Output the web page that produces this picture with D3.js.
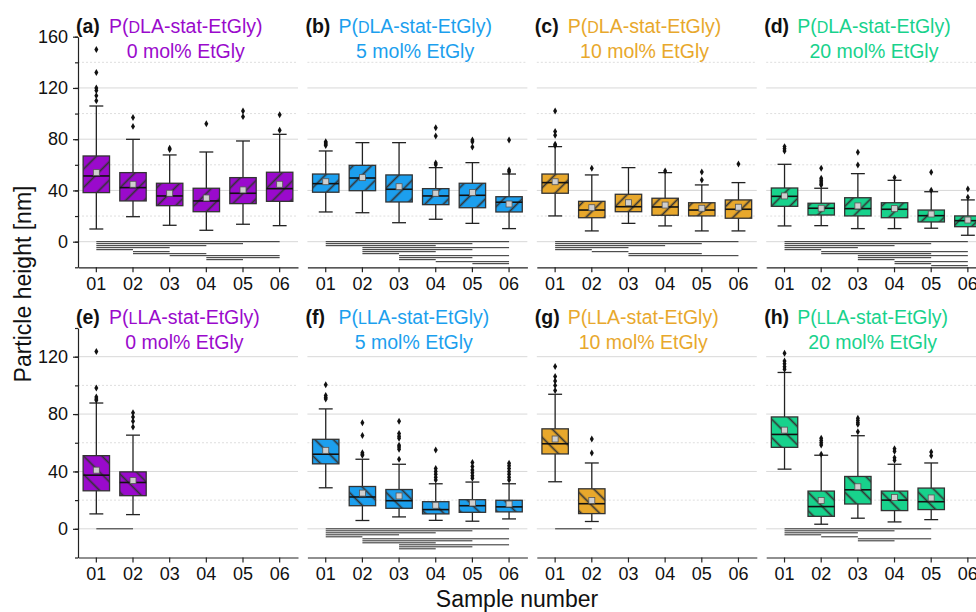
<!DOCTYPE html>
<html>
<head>
<meta charset="utf-8">
<script src="https://cdn.jsdelivr.net/npm/d3@7"></script>
<style>
    body { margin: 0; background: #fff; }
    svg { font-family: "Liberation Sans", Arial, sans-serif; display: block; }
</style>
</head>
<body>
<svg id="chart"></svg>
<script>
var samples = ["01", "02", "03", "04", "05", "06"];
var letters = ["a", "b", "c", "d", "e", "f", "g", "h"];
var isomers = ["D", "D", "D", "D", "L", "L", "L", "L"];
var contents = ["0 mol% EtGly", "5 mol% EtGly", "10 mol% EtGly", "20 mol% EtGly",
    "0 mol% EtGly", "5 mol% EtGly", "10 mol% EtGly", "20 mol% EtGly"];
var panelColors = ["#9a0acc", "#1c9fee", "#e8a82c", "#18d28c",
    "#9a0acc", "#1c9fee", "#e8a82c", "#18d28c"];
var topTicks = [0, 40, 80, 120, 160];
var bottomTicks = [0, 40, 80, 120];

// each box: [lower whisker, Q1, median, Q3, upper whisker, mean]
var boxA = [[9.9, 38.3, 51.3, 66.9, 105.9, 53.9], [19.5, 31.8, 42.2, 53.9, 79.9, 44.8], [12.8, 28.1, 35.7, 45.6, 67.7, 37.8],
    [8.9, 23.4, 31.8, 41.7, 70, 34.1], [13.6, 29.7, 37.8, 50, 78.6, 40.4], [12.5, 31.5, 41.4, 54.2, 83.8, 44.8]];
var boxB = [[23.2, 38.6, 45.3, 52.8, 70.8, 46.8], [22.6, 39.8, 49.7, 59.6, 77.3, 50], [14.8, 31, 40.9, 52.1, 77.3, 42.9],
    [17.5, 28.9, 35.7, 41.4, 57.8, 37.8], [14.3, 26.5, 36.2, 45.6, 61.7, 38.3], [10.2, 23.2, 30.8, 35.1, 52.8, 29.4]];
var boxC = [[20.1, 37.8, 46.1, 52.8, 74.2, 46.8], [8.4, 18.7, 24.7, 31.5, 52.1, 26.5], [14.3, 23.4, 27.3, 37, 57.8, 30.4],
    [12.3, 20.6, 27.1, 33.9, 53.9, 28.6], [8.4, 20.1, 24.7, 30.4, 44.3, 26.1], [8.4, 18.3, 25.3, 32.6, 46.1, 26.9]];
var boxD = [[12.3, 27.6, 35.4, 41.9, 60.4, 35.7], [12.5, 20.8, 26.1, 30, 41.7, 26.1], [10.2, 20.1, 25.8, 34.3, 53.1, 27.9],
    [10.2, 18.7, 25.3, 30.4, 47.9, 25.8], [10.5, 15.4, 20.3, 24.7, 39, 21.6], [5, 11.7, 16.4, 20.1, 32.6, 16.9]];
var boxE = [[10.4, 26.5, 37.4, 51, 87.7, 40.9], [9.9, 23.1, 32.3, 39.7, 65.3, 33.7], null, null, null, null];
var boxF = [[28.6, 45.3, 52, 62.4, 83.6, 54.7], [5.8, 16.1, 22.2, 29.5, 48.5, 24.9], [8.3, 14.3, 19.6, 27.4, 45, 22.9],
    [5.9, 10.4, 13.4, 18.9, 31.4, 16.4], [5.3, 11.5, 16.1, 20.3, 32.6, 18], [6.9, 11.8, 15.3, 19.9, 31.4, 17.3]];
var boxG = [[32.8, 52.2, 59.3, 69.7, 93.8, 62.6], [5.1, 10.6, 17.5, 27.9, 45.9, 19.8], null, null, null, null];
var boxH = [[41.6, 56.8, 65.8, 78, 109, 68.8], [3.2, 8.7, 15.5, 26.3, 51.3, 19.8], [7.4, 17.3, 27.2, 36.5, 64.9, 29.3],
    [4.8, 12.7, 20, 26.3, 45, 21.9], [6.4, 13.4, 18.9, 28.4, 45.9, 21.5], null];

// outliers per sample
var outA = [[150, 132, 120, 118, 114, 110], [97, 90], [73, 72], [92], [102, 97.6], [99, 87]];
var outB = [[78, 77, 76, 75], [], [], [89, 82.5, 61.4, 60], [79.4, 78, 73.9], [79.4, 56, 54.5]];
var outC = [[102, 86, 83, 76, 75], [57.3], [], [55.2], [54.4, 48.2], [60.7]];
var outD = [[74.2, 72.5, 70.8], [57.3, 49.5, 48, 46.5, 45, 44.3], [69.8, 59.9], [50], [54.2, 40.1], [41.1, 34.7]];
var outE = [[123.6, 98.1, 91.9, 90.5, 89.6], [81, 78, 75, 71], [], [], [], []];
var outF = [[100.5, 92.9, 91.5, 90.5], [73.9, 65.1, 53.1, 52, 51.3], [75, 66.5, 64.5, 63.1, 58.2, 57, 55.4, 48.5],
    [55, 42, 40, 38, 36, 34], [46.2, 43.4, 41, 39, 37, 35.3], [45.7, 44, 42, 40, 38, 36, 34]];
var outG = [[113.2, 106.2, 103, 100, 96.5], [62.6, 52.9], [], [], [], []];
var outH = [[122.4, 117, 115, 113, 111.3], [63.1, 61.5, 60, 58.4, 52], [77.1, 75.5, 74, 72.8, 67.6],
    [55.9, 54, 49.5, 47.8], [53.6, 51], []];

// significant pairs (sample numbers), one row each under the zero line
var sigA = [[1, 6], [1, 5], [1, 4], [1, 3], [1, 2], [2, 3], [2, 4], [3, 6], [4, 6], [4, 5]];
var sigB = [[1, 6], [1, 5], [1, 4], [2, 6], [2, 5], [2, 4], [2, 3], [3, 6], [3, 5], [3, 4], [4, 6], [5, 6]];
var sigC = [[1, 6], [1, 5], [1, 4], [1, 3], [1, 2], [2, 3], [3, 5], [3, 6]];
var sigD = [[1, 6], [1, 5], [1, 4], [1, 3], [1, 2], [2, 6], [2, 5], [3, 6], [3, 5], [3, 4], [4, 6], [4, 5], [5, 6]];
var sigE = [[1, 2]];
var sigF = [[1, 6], [1, 5], [1, 4], [1, 3], [1, 2], [2, 6], [2, 5], [2, 4], [3, 6], [3, 5], [3, 4]];
var sigG = [[1, 2]];
var sigH = [[1, 5], [1, 4], [1, 3], [1, 2], [2, 3], [3, 5], [3, 4]];

function init() {
    var w = 976;
    var h = 612;
    var panelW = 220;

    var panels = [
        { box: boxA, out: outA, sig: sigA }, { box: boxB, out: outB, sig: sigB },
        { box: boxC, out: outC, sig: sigC }, { box: boxD, out: outD, sig: sigD },
        { box: boxE, out: outE, sig: sigE }, { box: boxF, out: outF, sig: sigF },
        { box: boxG, out: outG, sig: sigG }, { box: boxH, out: outH, sig: sigH }
    ];

    var svg = d3.select("#chart")
        .attr("width", w)
        .attr("height", h);
    var defs = svg.append("defs");

    var rowY = [
        d3.scaleLinear().domain([-20, 160]).range([267.3, 36.7]),
        d3.scaleLinear().domain([-20, 140]).range([557.5, 328])
    ];
    var rowTicks = [topTicks, bottomTicks];

    var colLeft = d3.scaleLinear().domain([0, 1]).range([78, 307.4]);

    var xScale = d3.scaleBand()
        .domain(samples)
        .range([0, panelW]);
    var step = xScale.step();
    function cx(s) { return xScale(s) + xScale.bandwidth() / 2; }

    panels.forEach(function (pan, p) {
        var col = p % 4;
        var row = Math.floor(p / 4);
        var y = rowY[row];
        var top = y.domain()[1];
        var color = panelColors[p];

        // hatch pattern for the boxes
        var pat = defs.append("pattern")
            .attr("id", "hatch" + p)
            .attr("patternUnits", "userSpaceOnUse")
            .attr("width", 13)
            .attr("height", 13)
            .attr("patternTransform", "rotate(" + (row === 0 ? 45 : -45) + ")");
        pat.append("rect").attr("width", 13).attr("height", 13).attr("fill", color);
        pat.append("line")
            .attr("x1", 6.5).attr("x2", 6.5).attr("y1", 0).attr("y2", 13)
            .attr("stroke", "#333")
            .attr("stroke-width", 1.7);

        var g = svg.append("g")
            .attr("transform", "translate(" + colLeft(col) + ",0)");

        // grid lines
        g.selectAll(".grid")
            .data(d3.range(0, top, 20))
            .enter()
            .append("line")
            .attr("class", "grid")
            .attr("x1", 0)
            .attr("x2", panelW)
            .attr("y1", function (d) { return y(d); })
            .attr("y2", function (d) { return y(d); })
            .attr("stroke", function (d) { return d % 40 === 0 ? "#d8d8d8" : "#dedede"; })
            .attr("stroke-width", 1)
            .attr("stroke-dasharray", function (d) { return d % 40 === 0 ? null : "2,2"; });

        // x axis
        var xAxis = g.append("g")
            .attr("transform", "translate(0," + y(-20) + ")")
            .call(d3.axisBottom(xScale).tickSize(5).tickSizeOuter(0).tickPadding(5));
        xAxis.selectAll("text").style("font-size", "18px").attr("fill", "#111");
        xAxis.selectAll("line, path").attr("stroke", "#222").attr("stroke-width", 1.2);

        // y axis only on the first column
        if (col === 0) {
            var yMinor = g.append("g")
                .call(d3.axisLeft(y).tickValues(d3.range(-20, top + 1, 20)).tickSize(3).tickSizeOuter(0).tickFormat(""));
            yMinor.selectAll("line, path").attr("stroke", "#222").attr("stroke-width", 1.2);
            var yAxis = g.append("g")
                .call(d3.axisLeft(y).tickValues(rowTicks[row]).tickSize(5).tickSizeOuter(0).tickPadding(5));
            yAxis.select(".domain").remove();
            yAxis.selectAll("line").attr("stroke", "#222").attr("stroke-width", 1.2);
            yAxis.selectAll("text").style("font-size", "18px").attr("fill", "#111");
        }

        // significance bars
        g.selectAll(".sig")
            .data(pan.sig)
            .enter()
            .append("line")
            .attr("class", "sig")
            .attr("x1", function (d) { return cx(samples[d[0] - 1]); })
            .attr("x2", function (d) { return cx(samples[d[1] - 1]); })
            .attr("y1", function (d, i) { return y(0) + i * 2; })
            .attr("y2", function (d, i) { return y(0) + i * 2; })
            .attr("stroke", "#2a2a2a")
            .attr("stroke-width", 1);

        var boxes = samples.map(function (s, i) {
            return { s: s, b: pan.box[i], o: pan.out[i] };
        }).filter(function (d) { return d.b; });

        var bw = step * 0.72;
        var capW = step * 0.38;

        var bg = g.selectAll(".box")
            .data(boxes)
            .enter()
            .append("g")
            .attr("class", "box");

        // whisker
        bg.append("line")
            .attr("x1", function (d) { return cx(d.s); })
            .attr("x2", function (d) { return cx(d.s); })
            .attr("y1", function (d) { return y(d.b[0]); })
            .attr("y2", function (d) { return y(d.b[4]); })
            .attr("stroke", "#222")
            .attr("stroke-width", 1.3);
        [0, 4].forEach(function (k) {
            bg.append("line")
                .attr("x1", function (d) { return cx(d.s) - capW / 2; })
                .attr("x2", function (d) { return cx(d.s) + capW / 2; })
                .attr("y1", function (d) { return y(d.b[k]); })
                .attr("y2", function (d) { return y(d.b[k]); })
                .attr("stroke", "#222")
                .attr("stroke-width", 1.3);
        });

        // box
        bg.append("rect")
            .attr("x", function (d) { return cx(d.s) - bw / 2; })
            .attr("y", function (d) { return y(d.b[3]); })
            .attr("width", bw)
            .attr("height", function (d) { return y(d.b[1]) - y(d.b[3]); })
            .attr("fill", "url(#hatch" + p + ")")
            .attr("stroke", "#333")
            .attr("stroke-width", 1.3);

        // median
        bg.append("line")
            .attr("x1", function (d) { return cx(d.s) - bw / 2; })
            .attr("x2", function (d) { return cx(d.s) + bw / 2; })
            .attr("y1", function (d) { return y(d.b[2]); })
            .attr("y2", function (d) { return y(d.b[2]); })
            .attr("stroke", "#111")
            .attr("stroke-width", 1.6);

        // mean
        bg.append("rect")
            .attr("x", function (d) { return cx(d.s) - 3; })
            .attr("y", function (d) { return y(d.b[5]) - 3; })
            .attr("width", 6)
            .attr("height", 6)
            .attr("fill", "#cfcfcf")
            .attr("stroke", "#555")
            .attr("stroke-width", 0.8);

        // outliers
        bg.each(function (d) {
            d3.select(this).selectAll(".out")
                .data(d.o)
                .enter()
                .append("path")
                .attr("class", "out")
                .attr("d", d3.symbol().type(d3.symbolDiamond).size(14))
                .attr("transform", function (v) {
                    return "translate(" + cx(d.s) + "," + y(v) + ")";
                })
                .attr("fill", "#111");
        });

        // panel title
        var plotTop = y.range()[1];
        var t1 = g.append("text")
            .attr("x", 31)
            .attr("y", plotTop - 4)
            .attr("fill", color)
            .style("font-size", "19.5px");
        t1.append("tspan").text("P(");
        t1.append("tspan").style("font-size", "16px").text(isomers[p]);
        t1.append("tspan").text("LA-stat-EtGly)");
        var tw = t1.node().getComputedTextLength();

        g.append("text")
            .attr("x", 31 + tw / 2)
            .attr("y", plotTop + 21)
            .attr("text-anchor", "middle")
            .attr("fill", color)
            .style("font-size", "19.5px")
            .text(contents[p]);

        g.append("text")
            .attr("x", -2)
            .attr("y", plotTop - 4)
            .attr("fill", "#111")
            .style("font-size", "19.5px")
            .style("font-weight", "bold")
            .text("(" + letters[p] + ")");
    });

    // axis titles
    svg.append("text")
        .attr("x", 517)
        .attr("y", 607)
        .attr("text-anchor", "middle")
        .style("font-size", "23px")
        .attr("fill", "#111")
        .text("Sample number");

    svg.append("text")
        .attr("transform", "translate(31,284) rotate(-90)")
        .attr("text-anchor", "middle")
        .style("font-size", "23px")
        .attr("fill", "#111")
        .text("Particle height [nm]");
}
window.onload = init;
</script>
</body>
</html>
